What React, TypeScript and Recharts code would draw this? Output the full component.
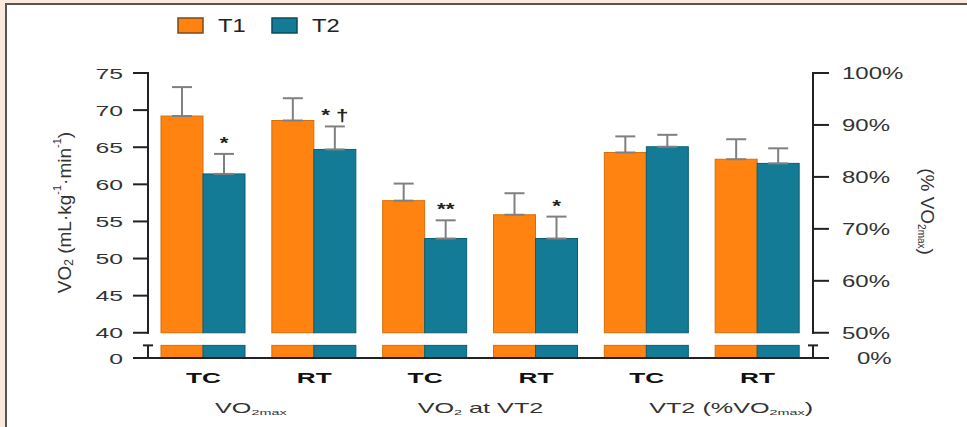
import React from 'react';
import { BarChart, Bar, XAxis, YAxis, ErrorBar, LabelList, Legend } from 'recharts';

// ---------------- data ----------------
const categories = ['TC', 'RT', 'TC', 'RT', 'TC', 'RT'];
const groupLabels = ['VO2max', 'VO2 at VT2', 'VT2 (%VO2max)'];
const seriesNames = ['T1', 'T2'];

// VO2 (mL·kg-1·min-1), left axis
const t1Vo2 = [69.2, 68.6, 57.8, 55.9, null, null];
const t1Vo2Sd = [3.9, 3.0, 2.3, 2.9, null, null];
const t2Vo2 = [61.4, 64.7, 52.7, 52.7, null, null];
const t2Vo2Sd = [2.7, 3.1, 2.45, 2.95, null, null];

// VT2 (% VO2max), right axis
const t1Pct = [null, null, null, null, 84.7, 83.4];
const t1PctSd = [null, null, null, null, 3.1, 3.85];
const t2Pct = [null, null, null, null, 85.8, 82.6];
const t2PctSd = [null, null, null, null, 2.3, 2.9];

const significance = ['*', '* \u2020', '**', '*', '', ''];

const leftTickValues = [40, 45, 50, 55, 60, 65, 70, 75];
const rightTickValues = [50, 60, 70, 80, 90, 100];

// ---------------- layout / style ----------------
const FONT = '"Liberation Sans", Arial, Helvetica, sans-serif';
const W = 967;
const H = 427;
const PLOT_TOP = 73;
const PLOT_BOTTOM = 358;
const PLOT_LEFT = 148;
const PLOT_RIGHT = 813;

const ORANGE = '#FF8310';
const ORANGE_EDGE = '#D2700E';
const TEAL = '#137B95';
const TEAL_EDGE = '#0C5E72';
const AXIS = '#222';
const ERR = '#808080';

// axis break: left 0..40 compressed, right 0..50% compressed
const VO2_MIN = 36.6;
const VO2_BREAK_LO = 38.3;
const VO2_BREAK = 40;
const VO2_MAX = 75;
const PCT_BREAK = 50;
const PCT_MAX = 100;
const PCT_PER_VO2 = (PCT_MAX - PCT_BREAK) / (VO2_MAX - VO2_BREAK);
const PCT_MIN = PCT_BREAK - (VO2_BREAK - VO2_MIN) * PCT_PER_VO2;
const PCT_BREAK_LO = PCT_BREAK - (VO2_BREAK - VO2_BREAK_LO) * PCT_PER_VO2;
const PPU_L = (PLOT_BOTTOM - PLOT_TOP) / (VO2_MAX - VO2_MIN);
const PPU_R = (PLOT_BOTTOM - PLOT_TOP) / (PCT_MAX - PCT_MIN);

const leftTicks = [VO2_MIN, VO2_BREAK_LO, ...leftTickValues];
const rightTicks = [PCT_MIN, PCT_BREAK_LO, ...rightTickValues];

const groupLabelDx = [-8, 0, 29];

const toErr = (sd: number | null) => (sd == null ? null : [0, sd]);

const data = categories.map((c, i) => ({
  key: `${groupLabels[Math.floor(i / 2)]}-${c}`,
  t1: t1Vo2[i],
  t1Err: toErr(t1Vo2Sd[i]),
  t2: t2Vo2[i],
  t2Err: toErr(t2Vo2Sd[i]),
  t1p: t1Pct[i],
  t1pErr: toErr(t1PctSd[i]),
  t2p: t2Pct[i],
  t2pErr: toErr(t2PctSd[i]),
  sig: significance[i],
}));

// ---------------- helpers ----------------
// horizontally stretched text (the reference lettering is wide)
const SText = ({ x, y, sx, anchor = 'start', size, weight = 'normal', fill = '#333', children }: any) => (
  <g transform={`translate(${x},${y}) scale(${sx},1)`}>
    <text x={0} y={0} textAnchor={anchor} fontSize={size} fontWeight={weight} fill={fill} fontFamily={FONT}>
      {children}
    </text>
  </g>
);

const makeBrokenBar = (fill: string, stroke: string, axisMin: number, breakHi: number, breakLo: number) =>
  (props: any) => {
    const { x, y, width, height } = props;
    const v = Array.isArray(props.value) ? props.value[1] : props.value;
    if (v == null || !isFinite(v) || !(height > 0)) return null;
    const base = y + height;
    const ppu = height / (v - axisMin);
    const yHi = base - (breakHi - axisMin) * ppu;
    const yLo = base - (breakLo - axisMin) * ppu;
    return (
      <g>
        <rect x={x} y={y} width={width} height={yHi - y} fill={fill} stroke={stroke} strokeWidth={1} />
        <rect x={x} y={yLo} width={width} height={base - yLo} fill={fill} stroke={stroke} strokeWidth={1} />
      </g>
    );
  };

const renderVO2 = (label: string, big: number, small: number) => {
  // subscripts "2" / "2max" after VO
  const m = label.match(/^(.*?)VO2(max)?(.*)$/);
  if (!m) return label;
  return [
    <tspan key="a">{m[1]}VO</tspan>,
    <tspan key="b" fontSize={small} dy={2}>{'2' + (m[2] || '')}</tspan>,
    <tspan key="c" fontSize={big} dy={-2}>{m[3]}</tspan>,
  ];
};

const LeftTick = (props: any) => {
  const { x, y, payload } = props;
  const v = payload.value;
  if (v === VO2_BREAK_LO) {
    return (
      <g>
        <line x1={x - 5} x2={x + 5} y1={y} y2={y} stroke={AXIS} strokeWidth={2} />
        <line x1={x} x2={x} y1={y} y2={y + (VO2_BREAK_LO - VO2_MIN) * PPU_L} stroke={AXIS} strokeWidth={2} />
      </g>
    );
  }
  const label = v === VO2_MIN ? '0' : String(v);
  return (
    <g>
      <line x1={x - 15} x2={x + 1} y1={y} y2={y} stroke={AXIS} strokeWidth={2} />
      {v === VO2_MAX && (
        <line x1={x} x2={x} y1={y - 1} y2={y + (VO2_MAX - VO2_BREAK) * PPU_L + 1} stroke={AXIS} strokeWidth={2} />
      )}
      <SText x={x - 25} y={y + 5.5} sx={1.65} anchor="end" size={15}>
        {label}
      </SText>
    </g>
  );
};

const RightTick = (props: any) => {
  const { x, y, payload } = props;
  const v = payload.value;
  if (v === PCT_BREAK_LO) {
    return (
      <g>
        <line x1={x - 5} x2={x + 5} y1={y} y2={y} stroke={AXIS} strokeWidth={2} />
        <line x1={x} x2={x} y1={y} y2={y + (PCT_BREAK_LO - PCT_MIN) * PPU_R} stroke={AXIS} strokeWidth={2} />
      </g>
    );
  }
  const isZero = v === PCT_MIN;
  const label = isZero ? '0%' : `${v}%`;
  return (
    <g>
      <line x1={x - 1} x2={x + 16} y1={y} y2={y} stroke={AXIS} strokeWidth={2} />
      {v === PCT_MAX && (
        <line x1={x} x2={x} y1={y - 1} y2={y + (PCT_MAX - PCT_BREAK) * PPU_R + 1} stroke={AXIS} strokeWidth={2} />
      )}
      <SText x={x + (isZero ? 44 : 29)} y={y + 6} sx={1.5} anchor="start" size={16}>
        {label}
      </SText>
    </g>
  );
};

const XTick = (props: any) => {
  const { x, y, payload } = props;
  const i = props.index ?? payload.index;
  const band = (PLOT_RIGHT - PLOT_LEFT) / categories.length;
  const g = Math.floor(i / 2);
  return (
    <g>
      <SText x={x} y={y + 25} sx={1.75} anchor="middle" size={15} weight="bold" fill="#111">
        {categories[i]}
      </SText>
      {i % 2 === 0 && (
        <SText x={x + band / 2 + groupLabelDx[g]} y={y + 55} sx={1.8} anchor="middle" size={14} fill="#333">
          {renderVO2(groupLabels[g], 14, 8)}
        </SText>
      )}
    </g>
  );
};

const SigLabel = (props: any) => {
  const { index, value } = props;
  if (!value) return null;
  const vb = props.viewBox || props;
  const v = t2Vo2[index];
  const sd = t2Vo2Sd[index];
  if (v == null || sd == null) return null;
  const h = Math.abs(vb.height);
  const ppu = h / (v - VO2_MIN);
  const top = Math.min(vb.y, vb.y + vb.height);
  const errTop = top - sd * ppu;
  return (
    <SText x={vb.x + vb.width / 2} y={errTop - 5} sx={1.4} anchor="middle" size={16} weight="bold" fill="#222">
      {value}
    </SText>
  );
};

const LeftAxisTitle = (props: any) => {
  const vb = props.viewBox || { x: 0, y: PLOT_TOP, width: PLOT_LEFT, height: PLOT_BOTTOM - PLOT_TOP };
  const cx = vb.x + 64;
  const cy = vb.y + vb.height / 2 - 3;
  return (
    <text
      x={cx}
      y={cy}
      transform={`rotate(-90 ${cx} ${cy})`}
      textAnchor="middle"
      dominantBaseline="central"
      fontSize={19}
      fill="#333"
      fontFamily={FONT}
    >
      VO<tspan fontSize={12} dy={5}>2</tspan>
      <tspan dy={-5}> (mL·kg</tspan>
      <tspan fontSize={11} dy={-7}>-1</tspan>
      <tspan dy={7}>·min</tspan>
      <tspan fontSize={11} dy={-7}>-1</tspan>
      <tspan dy={7}>)</tspan>
    </text>
  );
};

const RightAxisTitle = (props: any) => {
  const vb = props.viewBox || { x: PLOT_RIGHT, y: PLOT_TOP, width: W - PLOT_RIGHT, height: PLOT_BOTTOM - PLOT_TOP };
  const cx = vb.x + 114;
  const cy = vb.y + vb.height / 2 - 4;
  return (
    <text
      x={cx}
      y={cy}
      transform={`rotate(90 ${cx} ${cy})`}
      textAnchor="middle"
      dominantBaseline="central"
      fontSize={19}
      fill="#333"
      fontFamily={FONT}
    >
      (% VO<tspan fontSize={10} dy={5}>2max</tspan>
      <tspan dy={-5}>)</tspan>
    </text>
  );
};

const LegendContent = () => {
  const colors = [ORANGE, TEAL];
  const edges = ['#7a4a1e', '#0a4b5c'];
  const starts = [1, 95];
  return (
    <svg width={200} height={26} style={{ display: 'block' }}>
      {seriesNames.map((n, i) => (
        <g key={n}>
          <rect x={starts[i]} y={4} width={25} height={15} fill={colors[i]} stroke={edges[i]} strokeWidth={1.5} />
          <SText x={starts[i] + 40} y={18} sx={1.25} size={19} fill="#222">
            {n}
          </SText>
        </g>
      ))}
    </svg>
  );
};

export default function App() {
  return (
    <div style={{ position: 'absolute', left: 0, top: 0, width: W, height: H, background: '#fbe9de', overflow: 'hidden' }}>
      <div
        style={{
          position: 'absolute',
          left: 5,
          top: 3,
          width: W,
          height: H,
          background: '#fff',
          borderLeft: '2px solid #555',
          borderTop: '2px solid #555',
        }}
      />
      <div style={{ position: 'absolute', left: 0, top: 0 }}>
        <BarChart
          width={W}
          height={H}
          data={data}
          margin={{ top: PLOT_TOP, right: 0, bottom: 0, left: 0 }}
          barCategoryGap={13}
          barGap={0}
          style={{ fontFamily: FONT }}
        >
          <XAxis
            xAxisId="a"
            dataKey="key"
            height={H - PLOT_BOTTOM}
            interval={0}
            tickLine={false}
            tickSize={0}
            tickMargin={0}
            axisLine={{ stroke: AXIS, strokeWidth: 2 }}
            tick={<XTick />}
          />
          <XAxis xAxisId="b" dataKey="key" hide />
          <YAxis
            yAxisId="left"
            type="number"
            width={PLOT_LEFT}
            domain={[VO2_MIN, VO2_MAX]}
            allowDataOverflow
            ticks={leftTicks}
            interval={0}
            axisLine={false}
            tickLine={false}
            tickSize={0}
            tickMargin={0}
            tick={<LeftTick />}
            label={{ content: (p: any) => <LeftAxisTitle {...p} /> }}
          />
          <YAxis
            yAxisId="right"
            orientation="right"
            type="number"
            width={W - PLOT_RIGHT}
            domain={[PCT_MIN, PCT_MAX]}
            allowDataOverflow
            ticks={rightTicks}
            interval={0}
            axisLine={false}
            tickLine={false}
            tickSize={0}
            tickMargin={0}
            tick={<RightTick />}
            label={{ content: (p: any) => <RightAxisTitle {...p} /> }}
          />
          <Legend
            layout="vertical"
            verticalAlign="middle"
            align="center"
            wrapperStyle={{ top: 14, left: 177, width: 200, height: 26 }}
            content={() => <LegendContent />}
          />
          <Bar
            xAxisId="a"
            yAxisId="left"
            dataKey="t1"
            name="T1"
            fill={ORANGE}
            isAnimationActive={false}
            shape={makeBrokenBar(ORANGE, ORANGE_EDGE, VO2_MIN, VO2_BREAK, VO2_BREAK_LO)}
          >
            <ErrorBar dataKey="t1Err" width={10} stroke={ERR} strokeWidth={2} isAnimationActive={false} />
          </Bar>
          <Bar
            xAxisId="a"
            yAxisId="left"
            dataKey="t2"
            name="T2"
            fill={TEAL}
            isAnimationActive={false}
            shape={makeBrokenBar(TEAL, TEAL_EDGE, VO2_MIN, VO2_BREAK, VO2_BREAK_LO)}
          >
            <ErrorBar dataKey="t2Err" width={10} stroke={ERR} strokeWidth={2} isAnimationActive={false} />
            <LabelList dataKey="sig" content={(p: any) => <SigLabel {...p} />} />
          </Bar>
          <Bar
            xAxisId="b"
            yAxisId="right"
            dataKey="t1p"
            name="T1 (%)"
            legendType="none"
            fill={ORANGE}
            isAnimationActive={false}
            shape={makeBrokenBar(ORANGE, ORANGE_EDGE, PCT_MIN, PCT_BREAK, PCT_BREAK_LO)}
          >
            <ErrorBar dataKey="t1pErr" width={10} stroke={ERR} strokeWidth={2} isAnimationActive={false} />
          </Bar>
          <Bar
            xAxisId="b"
            yAxisId="right"
            dataKey="t2p"
            name="T2 (%)"
            legendType="none"
            fill={TEAL}
            isAnimationActive={false}
            shape={makeBrokenBar(TEAL, TEAL_EDGE, PCT_MIN, PCT_BREAK, PCT_BREAK_LO)}
          >
            <ErrorBar dataKey="t2pErr" width={10} stroke={ERR} strokeWidth={2} isAnimationActive={false} />
          </Bar>
        </BarChart>
      </div>
    </div>
  );
}
